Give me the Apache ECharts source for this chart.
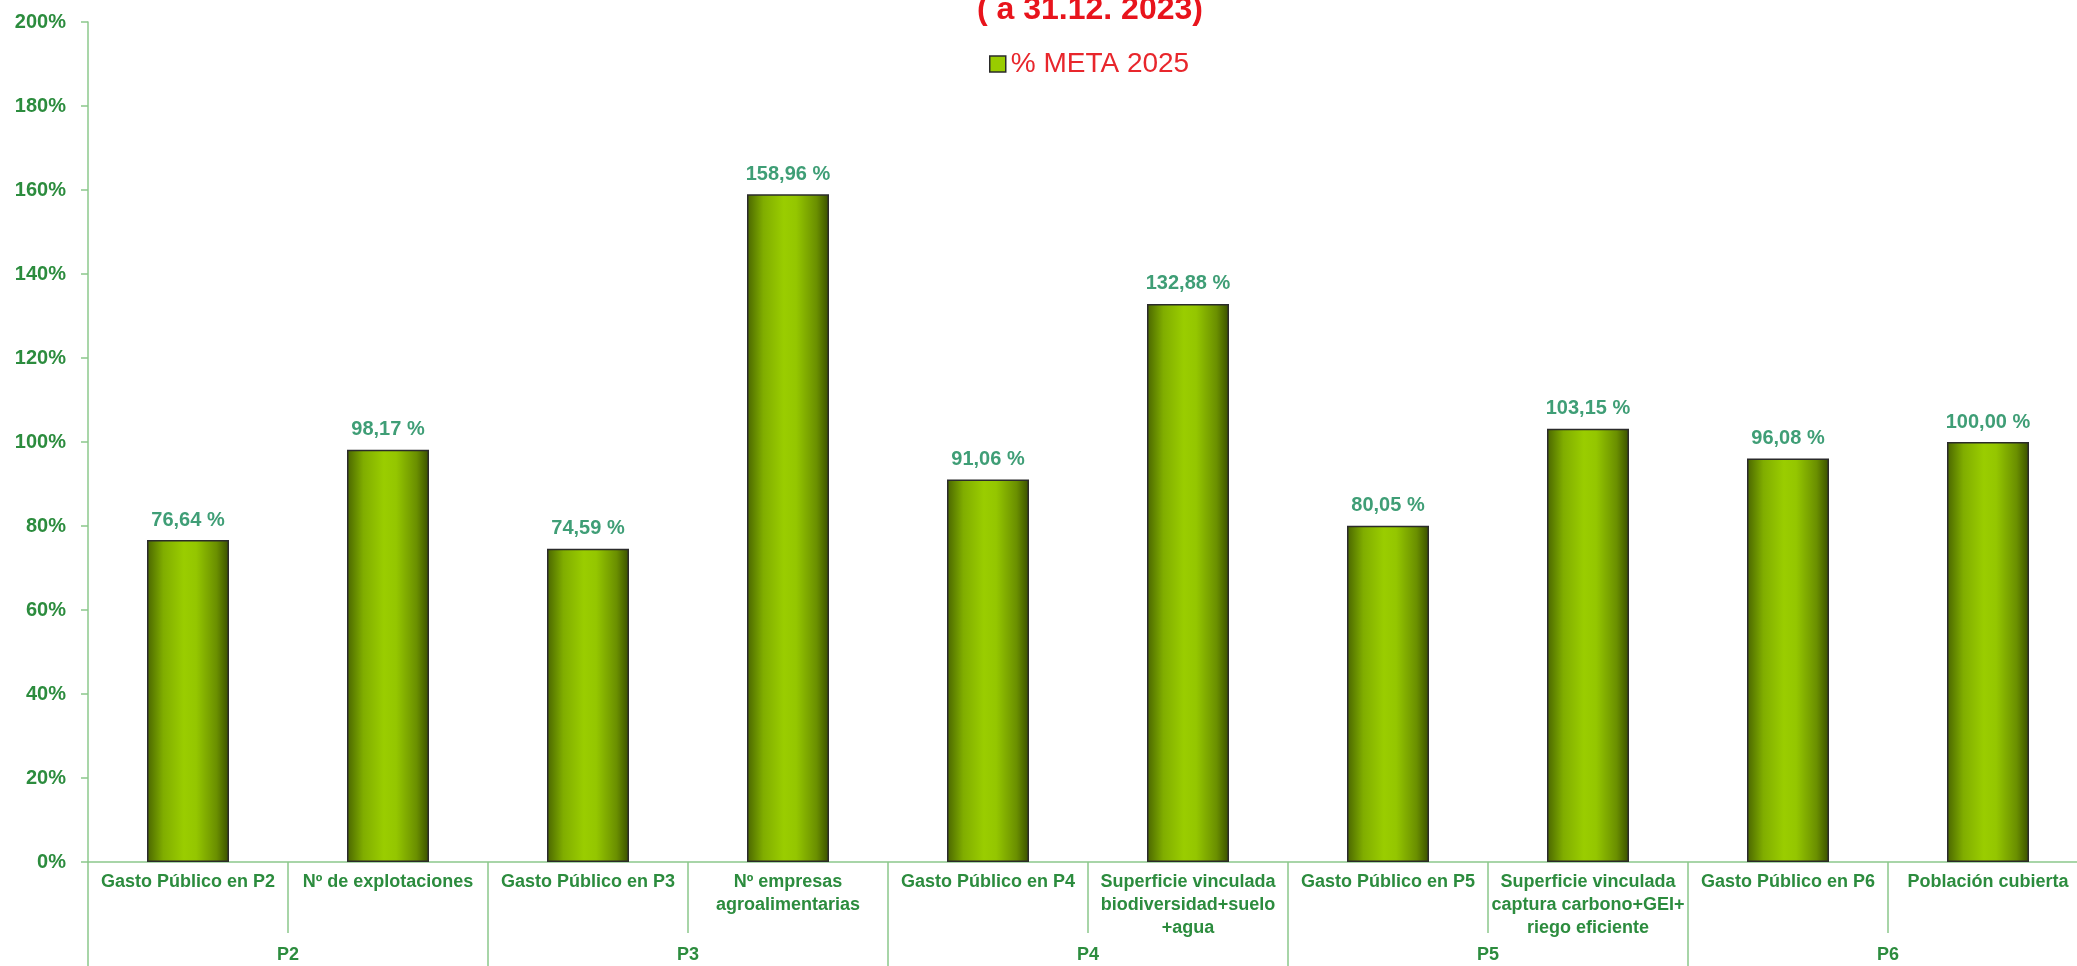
<!DOCTYPE html>
<html>
<head>
<meta charset="utf-8">
<script src="https://cdn.jsdelivr.net/npm/echarts@6/dist/echarts.min.js"></script>
<style>
html,body{margin:0;padding:0;background:#fff;}
#chart{width:2077px;height:966px;}
</style>
</head>
<body>
<div id="chart"></div>
<script>
const categories = [
  'Gasto Público en P2',
  'Nº de explotaciones',
  'Gasto Público en P3',
  'Nº empresas\nagroalimentarias',
  'Gasto Público en P4',
  'Superficie vinculada\nbiodiversidad+suelo\n+agua',
  'Gasto Público en P5',
  'Superficie vinculada\ncaptura carbono+GEI+\nriego eficiente',
  'Gasto Público en P6',
  'Población cubierta'
];
const groups = ['P2', 'P3', 'P4', 'P5', 'P6'];
const metaValues = [76.64, 98.17, 74.59, 158.96, 91.06, 132.88, 80.05, 103.15, 96.08, 100.00];
const yTicks = [0, 20, 40, 60, 80, 100, 120, 140, 160, 180, 200];
const titleText = '( a 31.12. 2023)';
const seriesName = '% META 2025';

const FONT = '"Liberation Sans", Arial, sans-serif';
const GREEN_TXT = '#2c8c3e';
const AXIS_LINE = '#8cc88c';

const chart = echarts.init(document.getElementById('chart'), null, {renderer: 'canvas'});

const barGradient = new echarts.graphic.LinearGradient(0, 0, 1, 0, [
  {offset: 0, color: '#4a6600'},
  {offset: 0.2, color: '#80ad00'},
  {offset: 0.45, color: '#9acd00'},
  {offset: 0.6, color: '#94c600'},
  {offset: 0.85, color: '#6a8f00'},
  {offset: 1, color: '#3a5000'}
]);

chart.setOption({
  animation: false,
  backgroundColor: '#ffffff',
  title: {
    text: titleText,
    left: 977,
    top: -6,
    padding: 0,
    textStyle: {fontFamily: FONT, fontSize: 32, fontWeight: 'bold', color: '#e8141c'}
  },
  legend: {
    data: [{name: seriesName, itemStyle: {color: '#99cc00', borderColor: '#2a2a2a', borderWidth: 1.5}}],
    left: 989,
    top: 50,
    padding: 0,
    itemWidth: 16,
    itemHeight: 16,
    icon: 'rect',
    textStyle: {fontFamily: FONT, fontSize: 28, color: '#e8262c'}
  },
  grid: {
    left: 88,
    right: -11,
    top: 22,
    bottom: 104,
    containLabel: false,
    outerBoundsMode: 'none'
  },
  xAxis: [
    {
      type: 'category',
      data: categories,
      position: 'bottom',
      axisLine: {show: true, lineStyle: {color: AXIS_LINE, width: 1.5}},
      axisTick: {show: true, length: 71, alignWithLabel: false, lineStyle: {color: AXIS_LINE, width: 1.5}},
      axisLabel: {
        interval: 0,
        margin: 9,
        fontFamily: FONT,
        fontSize: 18,
        fontWeight: 'bold',
        color: GREEN_TXT,
        lineHeight: 23
      },
      splitLine: {show: false}
    },
    {
      type: 'category',
      data: groups,
      position: 'bottom',
      gridIndex: 0,
      axisLine: {show: false},
      axisTick: {show: true, length: 110, alignWithLabel: false, lineStyle: {color: AXIS_LINE, width: 1.5}},
      axisLabel: {
        interval: 0,
        margin: 84,
        fontFamily: FONT,
        fontSize: 18,
        fontWeight: 'bold',
        color: GREEN_TXT
      },
      splitLine: {show: false}
    }
  ],
  yAxis: {
    type: 'value',
    min: yTicks[0],
    max: yTicks[yTicks.length - 1],
    interval: yTicks[1] - yTicks[0],
    axisLine: {show: true, lineStyle: {color: AXIS_LINE, width: 1.5}},
    axisTick: {show: true, length: 7, lineStyle: {color: AXIS_LINE, width: 1.5}},
    axisLabel: {
      margin: 22,
      fontFamily: FONT,
      fontSize: 20,
      fontWeight: 'bold',
      color: GREEN_TXT,
      formatter: '{value}%'
    },
    splitLine: {show: false}
  },
  series: [{
    name: seriesName,
    type: 'bar',
    xAxisIndex: 0,
    data: metaValues,
    barWidth: 82,
    itemStyle: {color: barGradient, borderColor: '#2b2b2b', borderWidth: 1.5},
    label: {
      show: true,
      position: 'top',
      distance: 10,
      fontFamily: FONT,
      fontSize: 20,
      fontWeight: 'bold',
      color: '#3f9e76',
      formatter: p => p.value.toFixed(2).replace('.', ',') + ' %'
    }
  }]
});
</script>
</body>
</html>
